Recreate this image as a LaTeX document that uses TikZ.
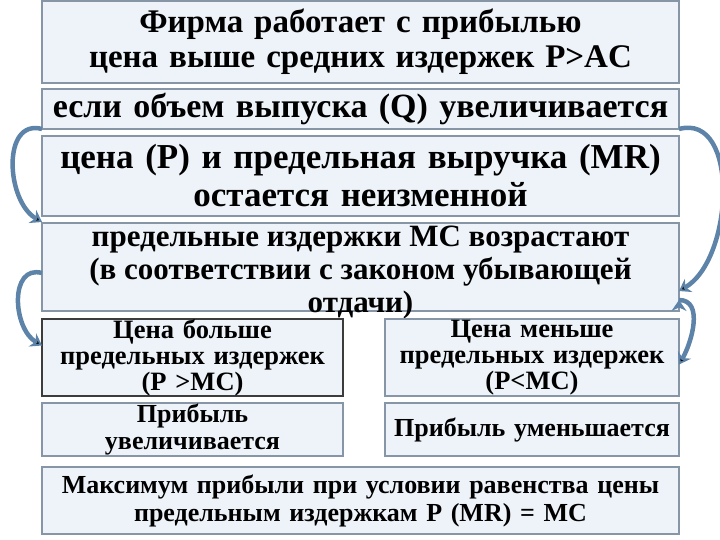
\documentclass[tikz,border=0pt]{standalone}
\usepackage{fontspec}
\setmainfont{Liberation Serif}
\usetikzlibrary{arrows.meta,positioning}
\definecolor{boxfill}{HTML}{EEF3F9}
\definecolor{boxline}{HTML}{8796A6}
\definecolor{boxdark}{HTML}{3C3C3C}
\definecolor{flowblue}{HTML}{5D84A8}

\begin{document}
\begin{tikzpicture}[
		x=1pt, y=-1pt,
		node distance=7pt,
		box/.style={rectangle,draw=boxline,line width=2pt,fill=boxfill,inner sep=0pt,outer sep=0pt,align=center},
		wide/.style={box,minimum width=637pt,text width=632pt},
		half/.style={box,minimum width=301pt,text width=296pt},
		flow/.style={draw=flowblue,line width=4.5pt,-{Stealth[length=11pt,width=15pt]}}]

	\useasboundingbox (0,0) rectangle (720,540);

	% main column
	\node[wide,minimum height=82pt,font=\bfseries\fontsize{33}{35}\selectfont] (firm) at (360.5,42) {Фирма работает с прибылью\\цена выше средних издержек P>AC};
	\node[wide,minimum height=40pt,font=\bfseries\fontsize{34}{38}\selectfont] (qty) [below=6pt of firm] {если объем выпуска (Q) увеличивается};
	\node[wide,minimum height=80pt,font=\bfseries\fontsize{35}{38}\selectfont] (price) [below=of qty] {цена (P) и предельная выручка (MR)\\остается неизменной};
	\node[wide,minimum height=88pt] (mc) [below=of price] {};
	\node[font=\bfseries\fontsize{31}{33}\selectfont,align=center,inner sep=0pt] (mctext) at ([yshift=-6pt]mc.center) {предельные издержки MC возрастают\\(в соответствии с законом убывающей\\отдачи)};

	% two cases
	\node[half,draw=boxdark,minimum height=77pt,font=\bfseries\fontsize{26.5}{26}\selectfont] (gtr) [below=8pt of mc.south west,anchor=north west] {Цена больше\\предельных издержек\\(P >MC)};
	\node[half,minimum width=294pt,text width=290pt,minimum height=77pt,font=\bfseries\fontsize{26.5}{26}\selectfont] (less) [below=8pt of mc.south east,anchor=north east] {Цена меньше\\предельных издержек\\(P<MC)};
	\node[half,minimum height=53pt,font=\bfseries\fontsize{26}{27}\selectfont] (up) [below=of gtr] {Прибыль\\увеличивается};
	\node[half,minimum width=294pt,text width=290pt,minimum height=53pt,font=\bfseries\fontsize{26}{26}\selectfont] (down) [below=of less] {Прибыль уменьшается};

	\node[wide,minimum height=67pt,font=\bfseries\fontsize{26}{28}\selectfont] (max) [below=11pt of up.south west,anchor=north west] {Максимум прибыли при условии равенства цены\\предельным издержкам P (MR) = MC};

	% curved arrows
	\path[flow]
		(qty.south west) edge[out=165,in=150,looseness=1.15] ([yshift=1pt]mc.north west)
		([yshift=-6pt]mc.west) edge[out=165,in=150,looseness=1.2] ([yshift=12pt]gtr.west)
		(qty.south east) edge[out=15,in=30,looseness=1.0] ([yshift=20pt]mc.south east)
		([yshift=11pt]mc.south east) edge[out=0,in=60,looseness=1.0] ([yshift=-7pt]less.east)
	;
\end{tikzpicture}
\end{document}
